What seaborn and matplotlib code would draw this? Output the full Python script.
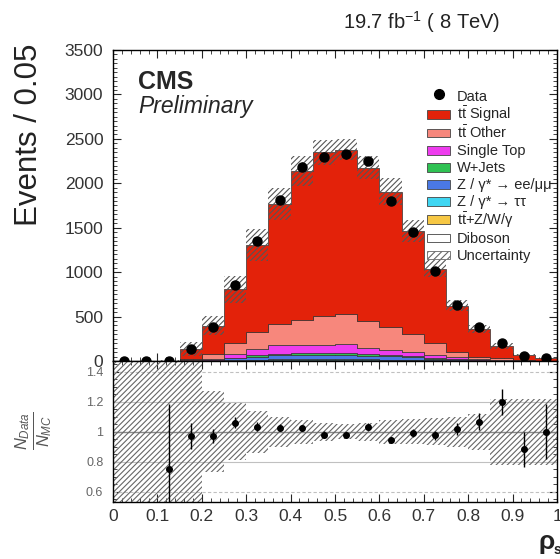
import numpy as np
import pandas as pd
import matplotlib
matplotlib.use("Agg")
import matplotlib.pyplot as plt
import seaborn as sns
from matplotlib.patches import Patch, Rectangle
from matplotlib.lines import Line2D
from matplotlib.legend_handler import HandlerPatch
from matplotlib.ticker import MultipleLocator, FuncFormatter, FixedLocator

# ---------------- data ----------------
bin_edges = [0.00, 0.05, 0.10, 0.15, 0.20, 0.25, 0.30, 0.35, 0.40, 0.45, 0.50,
             0.55, 0.60, 0.65, 0.70, 0.75, 0.80, 0.85, 0.90, 0.95, 1.00]

tt_signal = [1, 2, 1, 114, 318, 607, 980, 1353, 1678, 1839, 1852, 1726, 1520, 1162, 833, 519, 318, 137, 57, 25]
tt_other = [0, 0, 1, 12, 54, 122, 189, 234, 278, 323, 331, 308, 257, 198, 136, 60, 23, 21, 7, 4]
single_top = [0, 0, 1, 4, 12, 40, 75, 95, 98, 98, 104, 68, 60, 50, 35, 22, 12, 5, 2, 1]
w_jets = [0, 0, 0, 1, 3, 8, 13, 17, 17, 17, 19, 15, 13, 11, 8, 5, 2, 1, 0, 0]
z_ll = [0, 0, 1, 2, 7, 20, 35, 48, 50, 50, 52, 42, 38, 30, 20, 12, 6, 2, 1, 0]
z_tautau = [0, 0, 0, 1, 2, 5, 8, 10, 10, 10, 11, 9, 8, 6, 4, 3, 1, 1, 0, 0]
tt_v = [0, 0, 0, 0, 1, 3, 5, 7, 8, 8, 8, 7, 6, 5, 3, 2, 1, 0, 0, 0]
diboson = [0, 0, 0, 0, 1, 1, 2, 2, 2, 2, 2, 2, 2, 1, 1, 1, 0, 0, 0, 0]

data = [0, 0, 3, 130, 386, 854, 1350, 1812, 2188, 2300, 2327, 2249, 1797, 1447, 1015, 635, 387, 200, 59, 30]

rel_unc = [0.6, 0.6, 0.6, 0.6, 0.27, 0.19, 0.14, 0.10, 0.08, 0.06, 0.05, 0.06,
           0.08, 0.085, 0.09, 0.10, 0.12, 0.22, 0.22, 0.22]

labels = [r"$\mathrm{t\bar{t}}$ Signal", r"$\mathrm{t\bar{t}}$ Other", "Single Top", "W+Jets",
          "Z / γ* → ee/μμ", "Z / γ* → ττ", r"$\mathrm{t\bar{t}}$+Z/W/γ", "Diboson"]
colors = ["#e3220a", "#f7877c", "#ee3cee", "#2fc253", "#4a78e4", "#3fd6f2", "#f6c744", "#ffffff"]
components = [tt_signal, tt_other, single_top, w_jets, z_ll, z_tautau, tt_v, diboson]

# ---------------- style ----------------
sns.set_theme(style="ticks")
plt.rcParams["font.family"] = ["Liberation Sans", "DejaVu Sans"]
plt.rcParams["mathtext.fontset"] = "custom"
plt.rcParams["mathtext.rm"] = "Liberation Sans"
plt.rcParams["mathtext.it"] = "Liberation Sans:italic"
plt.rcParams["mathtext.bf"] = "Liberation Sans:bold"
plt.rcParams["mathtext.sf"] = "Liberation Sans"
plt.rcParams["hatch.linewidth"] = 0.8
plt.rcParams["axes.edgecolor"] = "black"
plt.rcParams["axes.linewidth"] = 1.0

edges = np.array(bin_edges)
centers = (edges[:-1] + edges[1:]) / 2
mc_total = np.sum(np.array(components, dtype=float), axis=0)
data_a = np.array(data, dtype=float)
unc = np.array(rel_unc)

df = pd.DataFrame({
    "x": np.tile(centers, len(labels)),
    "w": np.concatenate([np.array(c, dtype=float) for c in components]),
    "comp": np.repeat(labels, len(centers)),
})

fig = plt.figure(figsize=(5.6, 5.59), dpi=100)
L, R = 113 / 560, 557 / 560
ax = fig.add_axes([L, 1 - 361 / 559, R - L, (361 - 50) / 559])
axr = fig.add_axes([L, 1 - 502 / 559, R - L, (502 - 361) / 559], sharex=ax)

# stacked histogram
sns.histplot(data=df, x="x", weights="w", hue="comp", hue_order=labels,
             palette=dict(zip(labels, colors)), bins=bin_edges, multiple="stack",
             element="step", fill=True, alpha=1, linewidth=0.5, edgecolor="#333333",
             legend=False, ax=ax)

# uncertainty band
lo = mc_total * (1 - unc)
hi = mc_total * (1 + unc)
ax.fill_between(edges, np.r_[lo, lo[-1]], np.r_[hi, hi[-1]], step="post",
                facecolor="none", edgecolor="#555555", hatch="//////", linewidth=0, zorder=4)

# data
ax.errorbar(centers, data_a, yerr=np.sqrt(data_a), fmt="o", color="black", ms=6.5,
            elinewidth=1, capsize=0, clip_on=False, zorder=6)

ax.set_xlim(0, 1)
ax.set_ylim(0, 3500)
ax.set_xlabel("")
ax.set_ylabel("Events / 0.05", fontsize=22.5, loc="top", color="#222222")
ax.yaxis.set_label_coords(-0.155, 1.02)
ax.yaxis.set_major_locator(MultipleLocator(500))
ax.yaxis.set_minor_locator(MultipleLocator(50))
ax.xaxis.set_major_locator(MultipleLocator(0.1))
ax.xaxis.set_minor_locator(MultipleLocator(0.02))
ax.tick_params(which="both", direction="in", top=True, right=True, labelbottom=False)
ax.tick_params(which="major", length=6, width=0.8)
ax.tick_params(which="minor", length=3, width=0.6)
ax.tick_params(axis="y", labelsize=12.5, pad=7, labelcolor="#333333")


# legend (boxes smaller than the row height, so all rows are evenly spaced)
def small_box(legend, orig_handle, xdescent, ydescent, width, height, fontsize):
    bh = 0.6 * fontsize
    return Rectangle((-xdescent, -ydescent + (height - bh) / 2), width, bh)


handles = [Line2D([], [], marker="o", ls="none", color="black", ms=7)]
for c in colors:
    handles.append(Patch(facecolor=c, edgecolor="#444444", linewidth=0.6))
handles.append(Patch(facecolor="white", edgecolor="#666666", hatch="/////", linewidth=0.6))
leg_labels = ["Data"] + labels + ["Uncertainty"]
ax.legend(handles, leg_labels, loc="upper left", bbox_to_anchor=(0.708, 0.88),
          frameon=False, fontsize=10.5, handlelength=1.55, handleheight=1.42,
          handletextpad=0.45, labelspacing=0.0, borderpad=0, borderaxespad=0,
          handler_map={Patch: HandlerPatch(patch_func=small_box)})

# CMS labels
ax.text(138 / 560, 1 - 82 / 559, "CMS", transform=fig.transFigure, fontsize=18,
        fontweight="bold", ha="left", va="center")
ax.text(138 / 560, 1 - 106 / 559, "Preliminary", transform=fig.transFigure, fontsize=16.5,
        style="italic", ha="left", va="center")
fig.text(500 / 560, 1 - 22 / 559, r"19.7 fb$^{-1}$ ( 8 TeV)", ha="right", va="center",
         fontsize=14.5, color="#222222")

# ---------------- ratio panel ----------------
ratio = np.divide(data_a, mc_total)
ratio_err = np.sqrt(data_a) / mc_total
axr.fill_between(edges, np.r_[1 - unc, 1 - unc[-1]], np.r_[1 + unc, 1 + unc[-1]], step="post",
                 facecolor="none", edgecolor="#666666", hatch="//////", linewidth=0, zorder=2)
for yv in (0.8, 1.2):
    axr.axhline(yv, color="#c0c0c0", lw=0.8, zorder=1)
for yv in (0.6, 1.4):
    axr.axhline(yv, color="#c0c0c0", lw=0.8, ls=(0, (3, 2)), zorder=1)
axr.axhline(1.0, color="#888888", lw=1.0, zorder=1)
axr.errorbar(centers, ratio, yerr=ratio_err, fmt="o", color="black", ms=4,
             elinewidth=1, capsize=0, zorder=5)
axr.set_ylim(0.53, 1.47)
axr.set_xlim(0, 1)
axr.set_ylabel("")
axr.set_xlabel("")
axr.yaxis.set_major_locator(FixedLocator([0.6, 0.8, 1.0, 1.2, 1.4]))
axr.yaxis.set_minor_locator(MultipleLocator(0.05))
axr.xaxis.set_major_formatter(FuncFormatter(lambda v, p: f"{v:g}"))
axr.yaxis.set_major_formatter(FuncFormatter(lambda v, p: f"{v:g}"))
axr.tick_params(which="both", direction="in", top=True, right=True)
axr.tick_params(which="major", length=6, width=0.8)
axr.tick_params(which="minor", length=3, width=0.6)
axr.tick_params(axis="x", labelsize=12.5, pad=5, labelcolor="#333333")
axr.tick_params(axis="y", labelsize=9, pad=7, labelcolor="#666666")

fig.text(34 / 560, 1 - 431 / 559, r"$\frac{N_{Data}}{N_{MC}}$", rotation=90,
         ha="center", va="center", fontsize=17, color="#555555")
fig.text(539 / 560, 1 - 542 / 559, "ρ", fontsize=19, fontweight="bold",
         ha="left", va="center", color="#222222")
fig.text(554 / 560, 1 - 550 / 559, "s", fontsize=10, fontweight="bold",
         ha="left", va="center", color="#222222")

fig.savefig("out.png", dpi=100)
